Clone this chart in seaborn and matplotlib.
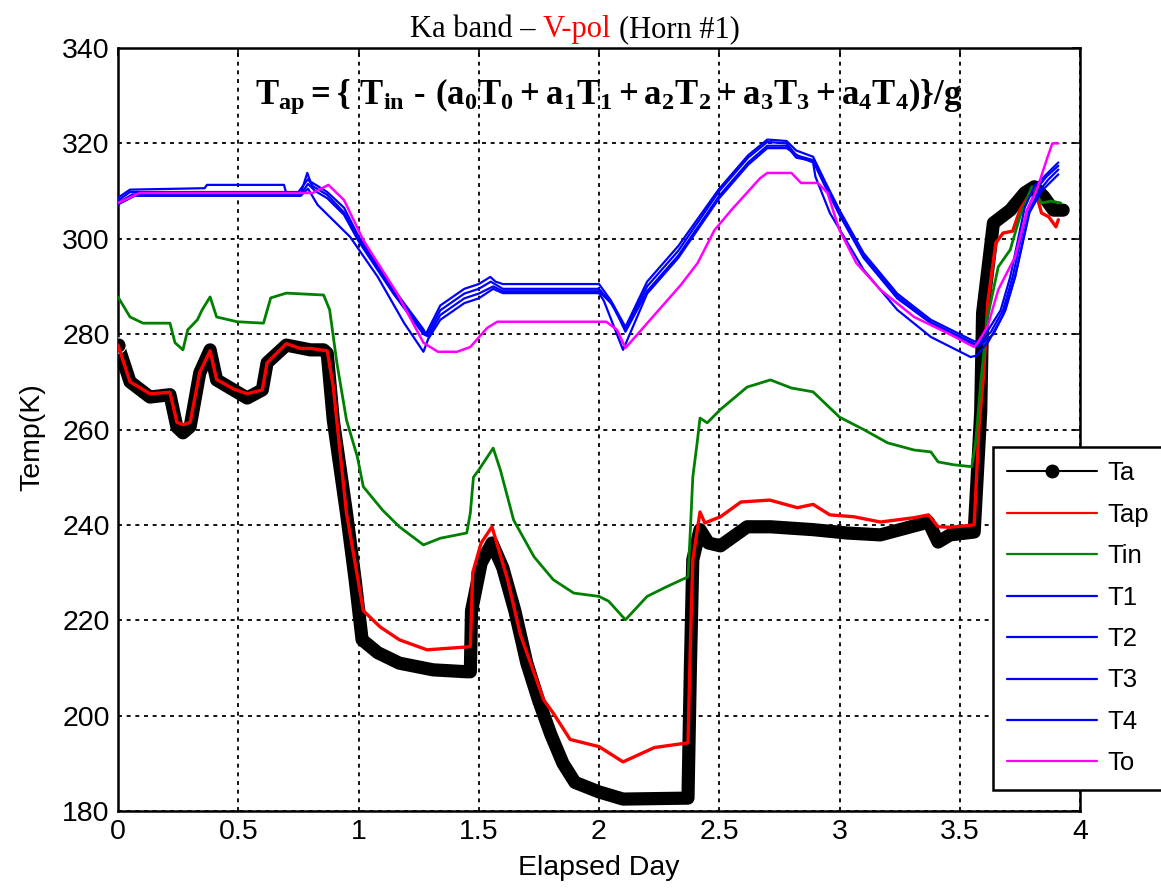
import matplotlib
matplotlib.use("Agg")
import matplotlib.pyplot as plt
from matplotlib.lines import Line2D
import seaborn as sns

# ---------------- data (elapsed day, temperature in K) ----------------
ta_day = [0, 0.05, 0.133, 0.216, 0.245, 0.27, 0.30, 0.34, 0.383, 0.41, 0.48, 0.537, 0.60, 0.62,
          0.70, 0.80, 0.855, 0.87, 0.895, 0.95, 0.986, 1.015, 1.08, 1.17, 1.31, 1.45, 1.465, 1.47,
          1.51, 1.555, 1.60, 1.65, 1.70, 1.75, 1.80, 1.85, 1.90, 1.95, 2.00, 2.10, 2.37, 2.38, 2.39,
          2.42, 2.455, 2.505, 2.616, 2.713, 2.89, 3.03, 3.17, 3.37, 3.41, 3.46, 3.56, 3.587, 3.595,
          3.63, 3.64, 3.71, 3.77, 3.81, 3.85, 3.89, 3.93]
ta_val = [277.7, 270.0, 266.8, 267.3, 260.5, 259.3, 260.6, 271.9, 276.7, 270.4, 268.3, 266.6, 268.3,
          274.0, 277.7, 276.7, 276.7, 276.0, 262.0, 242.5, 228.5, 215.9, 213.2, 211.0, 209.6, 209.2,
          209.2, 222.0, 232.0, 236.2, 231.0, 222.0, 211.0, 203.0, 196.0, 190.0, 186.0, 185.0, 184.0,
          182.5, 182.7, 210.0, 232.7, 239.0, 236.2, 235.6, 239.6, 239.6, 239.0, 238.3, 237.9, 240.6,
          236.4, 237.9, 238.5, 263.5, 284.4, 299.1, 303.3, 306.0, 309.6, 310.9, 308.8, 306.0, 306.0]

tap_day = [0, 0.05, 0.133, 0.216, 0.245, 0.27, 0.30, 0.34, 0.383, 0.41, 0.48, 0.537, 0.60, 0.62,
           0.70, 0.757, 0.80, 0.87, 0.895, 0.95, 1.02, 1.09, 1.17, 1.285, 1.45, 1.465, 1.475, 1.51,
           1.555, 1.62, 1.673, 1.77, 1.81, 1.88, 2.00, 2.10, 2.23, 2.37, 2.38, 2.39, 2.42, 2.44,
           2.505, 2.59, 2.71, 2.825, 2.89, 2.96, 3.06, 3.17, 3.31, 3.37, 3.41, 3.46, 3.56, 3.58,
           3.60, 3.616, 3.65, 3.68, 3.72, 3.75, 3.81, 3.84, 3.87, 3.90, 3.91]
tap_val = [277.7, 270.0, 267.5, 267.8, 261.5, 261.0, 261.5, 272.0, 276.5, 270.5, 268.5, 267.5, 268.3,
           274.0, 278.0, 277.0, 277.0, 276.5, 269.0, 242.5, 222.0, 218.6, 215.9, 213.8, 214.4, 214.5,
           230.0, 236.2, 239.6, 228.5, 217.0, 203.3, 200.5, 195.0, 193.5, 190.3, 193.3, 194.3, 215.0,
           232.7, 242.7, 240.4, 241.7, 244.8, 245.2, 243.6, 244.3, 242.1, 241.7, 240.6, 241.5, 242.1,
           239.6, 239.5, 240.0, 260.5, 272.0, 286.5, 299.1, 301.2, 301.6, 306.0, 310.9, 305.4, 304.6,
           302.5, 304.0]

tin_day = [0, 0.05, 0.104, 0.216, 0.237, 0.27, 0.29, 0.33, 0.35, 0.383, 0.41, 0.495, 0.605, 0.635,
           0.70, 0.855, 0.88, 0.91, 0.95, 0.995, 1.02, 1.10, 1.17, 1.27, 1.34, 1.45, 1.465, 1.478,
           1.50, 1.56, 1.59, 1.645, 1.73, 1.81, 1.895, 2.00, 2.04, 2.11, 2.20, 2.28, 2.37, 2.38,
           2.39, 2.41, 2.42, 2.45, 2.505, 2.616, 2.713, 2.80, 2.89, 3.00, 3.10, 3.20, 3.31, 3.38,
           3.41, 3.475, 3.55, 3.566, 3.587, 3.616, 3.66, 3.71, 3.75, 3.80, 3.84, 3.88, 3.92]
tin_val = [287.8, 283.6, 282.3, 282.3, 278.2, 276.7, 280.9, 283.0, 285.1, 287.8, 283.6, 282.6, 282.3,
           287.6, 288.6, 288.2, 285.1, 274.0, 262.0, 254.3, 248.0, 243.1, 239.6, 235.8, 237.2, 238.3,
           242.5, 250.0, 251.5, 256.1, 251.5, 241.0, 233.3, 228.5, 225.7, 225.0, 224.0, 220.1, 225.0,
           227.0, 229.1, 239.0, 250.0, 258.0, 262.4, 261.4, 264.2, 268.9, 270.4, 268.7, 267.9, 262.6,
           260.0, 257.2, 255.7, 255.3, 253.2, 252.6, 252.2, 257.2, 269.8, 283.6, 294.1, 297.7, 304.6,
           310.9, 307.5, 307.9, 307.5]

t1_day = [0, 0.05, 0.36, 0.37, 0.69, 0.70, 0.76, 0.787, 0.80, 0.87, 0.94, 1.00, 1.145, 1.27, 1.28,
          1.34, 1.44, 1.50, 1.548, 1.57, 1.60, 2.00, 2.05, 2.11, 2.20, 2.33, 2.50, 2.62, 2.70, 2.78,
          2.82, 2.89, 2.94, 3.00, 3.10, 3.24, 3.38, 3.56, 3.58, 3.62, 3.67, 3.71, 3.77, 3.81, 3.86, 3.91]
t1_val = [308.6, 310.3, 310.6, 311.3, 311.3, 309.5, 309.5, 313.8, 312.0, 309.8, 306.5, 300.5, 289.5,
          281.0, 280.0, 286.0, 289.5, 290.5, 292.0, 291.0, 290.5, 290.5, 287.0, 281.5, 291.0, 298.5,
          310.5, 317.5, 320.8, 320.5, 318.5, 317.2, 312.0, 306.0, 297.0, 288.5, 283.0, 278.5, 278.5,
          281.0, 285.0, 292.0, 306.5, 311.0, 313.5, 316.0]

t2_day = [0, 0.05, 0.75, 0.79, 0.81, 0.87, 0.94, 1.00, 1.145, 1.27, 1.285, 1.34, 1.44, 1.50, 1.55,
          1.60, 2.00, 2.05, 2.11, 2.20, 2.33, 2.50, 2.62, 2.70, 2.78, 2.82, 2.89, 2.94, 3.00, 3.10,
          3.24, 3.38, 3.56, 3.58, 3.63, 3.68, 3.72, 3.78, 3.82, 3.86, 3.91]
t2_val = [308.0, 309.8, 309.8, 312.5, 311.0, 309.2, 305.5, 300.0, 289.0, 280.5, 279.8, 285.0, 288.5,
          289.5, 291.0, 289.5, 289.5, 286.5, 281.0, 290.0, 297.5, 310.0, 317.0, 320.3, 320.0, 317.5,
          316.5, 311.5, 305.5, 296.5, 288.0, 282.5, 278.0, 278.0, 280.5, 285.0, 292.0, 306.0, 310.5,
          313.0, 315.3]

t3_day = [0, 0.06, 0.76, 0.79, 0.82, 0.87, 0.94, 1.00, 1.145, 1.27, 1.29, 1.34, 1.44, 1.50, 1.56,
          1.60, 2.00, 2.06, 2.11, 2.20, 2.33, 2.50, 2.62, 2.70, 2.78, 2.82, 2.89, 2.94, 3.00, 3.10,
          3.24, 3.38, 3.56, 3.58, 3.64, 3.69, 3.73, 3.79, 3.83, 3.87, 3.91]
t3_val = [307.5, 309.3, 309.3, 311.5, 310.0, 308.5, 305.0, 299.5, 288.5, 280.0, 279.5, 284.0, 287.5,
          288.5, 290.0, 289.0, 289.0, 286.0, 280.5, 289.0, 296.5, 309.0, 316.0, 319.5, 319.5, 317.0,
          316.3, 311.0, 305.0, 296.0, 287.5, 282.3, 277.7, 277.5, 280.0, 285.0, 292.0, 306.0, 310.0,
          312.5, 314.5]

t4_day = [0, 0.07, 0.76, 0.79, 0.83, 0.965, 1.08, 1.19, 1.27, 1.29, 1.34, 1.44, 1.50, 1.56, 1.60,
          2.00, 2.02, 2.10, 2.20, 2.33, 2.50, 2.62, 2.70, 2.78, 2.84, 2.89, 2.90, 2.96, 3.10, 3.24,
          3.38, 3.545, 3.57, 3.62, 3.68, 3.73, 3.79, 3.84, 3.88, 3.91]
t4_val = [307.2, 309.0, 309.0, 310.5, 307.1, 300.4, 292.0, 282.3, 276.3, 279.0, 283.0, 286.5, 287.5,
          289.5, 288.6, 288.6, 287.0, 276.7, 288.5, 296.0, 308.5, 315.5, 319.0, 319.0, 317.0, 316.0,
          313.0, 305.4, 293.5, 285.1, 279.4, 275.2, 275.5, 278.5, 284.0, 292.0, 305.5, 310.0, 312.0,
          313.5]

to_day = [0, 0.09, 0.81, 0.875, 0.94, 1.02, 1.16, 1.27, 1.33, 1.41, 1.465, 1.535, 1.577, 2.03, 2.075,
          2.11, 2.34, 2.41, 2.48, 2.55, 2.67, 2.70, 2.80, 2.84, 2.91, 2.95, 3.00, 3.07, 3.17, 3.31,
          3.45, 3.56, 3.575, 3.616, 3.66, 3.73, 3.78, 3.82, 3.865, 3.885, 3.91]
to_val = [307.5, 309.6, 309.6, 311.3, 308.1, 299.7, 288.6, 278.2, 276.3, 276.3, 277.3, 281.3, 282.6,
          282.6, 280.9, 277.1, 290.3, 294.9, 301.8, 306.0, 312.7, 313.8, 313.8, 311.7, 311.7, 309.6,
          301.8, 294.9, 289.3, 283.6, 280.2, 277.3, 278.2, 281.6, 289.3, 296.2, 306.0, 310.2, 317.1,
          320.0, 320.0]

series_names = ["Ta", "Tap", "Tin", "T1", "T2", "T3", "T4", "To"]
x_ticks = [0, 0.5, 1, 1.5, 2, 2.5, 3, 3.5, 4]
x_tick_labels = ["0", "0.5", "1", "1.5", "2", "2.5", "3", "3.5", "4"]
y_ticks = [180, 200, 220, 240, 260, 280, 300, 320, 340]
y_tick_labels = ["180", "200", "220", "240", "260", "280", "300", "320", "340"]

title_parts = [("Ka band \u2013", "black"), ("V-pol", "#ff0000"), ("(Horn #1)", "black")]
formula = (r"$T_{ap} = \{\ T_{in}\ \text{-}\ (a_0T_0 + a_1T_1 + a_2T_2 + "
           r"a_3T_3 + a_4T_4)\}/g$")

# ---------------- style ----------------
sns.set_style("white")
plt.rcParams["font.family"] = ["Liberation Sans", "DejaVu Sans"]
plt.rcParams["text.color"] = "black"
plt.rcParams["axes.labelcolor"] = "black"
plt.rcParams["mathtext.fontset"] = "custom"
plt.rcParams["mathtext.rm"] = "Liberation Serif:bold"
plt.rcParams["mathtext.it"] = "Liberation Serif:bold"
plt.rcParams["mathtext.bf"] = "Liberation Serif:bold"
plt.rcParams["mathtext.default"] = "bf"

W, H = 1161, 893
fig = plt.figure(figsize=(W / 100, H / 100), dpi=100)
fig.patch.set_facecolor("white")
ax = fig.add_axes([118 / W, (H - 811) / H, 962 / W, 763 / H])

line_kw = dict(ax=ax, sort=False, estimator=None, legend=False)

# Ta: heavy trace of dense circular markers
sns.lineplot(x=ta_day, y=ta_val, color="black", lw=9.5, solid_joinstyle="round",
             solid_capstyle="round", zorder=3, **line_kw)
sns.lineplot(x=ta_day, y=ta_val, color="black", lw=1.2, marker="o", markersize=11,
             markevery=[0], zorder=3, **line_kw)
sns.lineplot(x=tap_day, y=tap_val, color="#ff0000", lw=2.4, zorder=4, **line_kw)
sns.lineplot(x=tin_day, y=tin_val, color="#008000", lw=2.0, zorder=5, **line_kw)
for d, v in [(t1_day, t1_val), (t2_day, t2_val), (t3_day, t3_val), (t4_day, t4_val)]:
    sns.lineplot(x=d, y=v, color="#0000ff", lw=1.6, zorder=6, **line_kw)
sns.lineplot(x=to_day, y=to_val, color="#ff00ff", lw=1.8, zorder=7, **line_kw)

ax.set_xlim(0, 4)
ax.set_ylim(180, 340)
ax.set_xticks(x_ticks)
ax.set_xticklabels(x_tick_labels)
ax.set_yticks(y_ticks)
ax.set_yticklabels(y_tick_labels)
ax.tick_params(direction="in", length=6, width=1.2, top=True, right=True,
               labelsize=20.5, colors="black", pad=6)
for s in ax.spines.values():
    s.set_color("black")
    s.set_linewidth(1.8)
ax.grid(True, color="black", linestyle=(0, (2.2, 2.6)), linewidth=1.3)
ax.set_axisbelow(True)

ax.set_xlabel("Elapsed Day", fontsize=20.5, color="black")
ax.set_ylabel("Temp(K)", fontsize=20.5, color="black")
ax.xaxis.set_label_coords(0.5, -0.058)
ax.yaxis.set_label_coords(-0.075, 0.49)

# equation inside the plot
ax.text(0.51, 1 - (96 - 48) / 763, formula, transform=ax.transAxes, ha="center",
        va="center", fontsize=25, color="black", zorder=8)

# legend
handles = [Line2D([], [], color="black", lw=1.5, marker="o", markersize=9),
           Line2D([], [], color="#ff0000", lw=1.6),
           Line2D([], [], color="#008000", lw=1.6)]
handles += [Line2D([], [], color="#0000ff", lw=1.6) for _ in range(4)]
handles += [Line2D([], [], color="#ff00ff", lw=1.6)]
leg = fig.legend(handles, series_names, loc="upper left",
                 bbox_to_anchor=(993 / W, 1 - 447 / H), bbox_transform=fig.transFigure,
                 fontsize=18.5, frameon=True, fancybox=False, framealpha=1,
                 edgecolor="black", borderpad=0.55, handlelength=3.5, handletextpad=0.4,
                 labelspacing=0.68, borderaxespad=0, numpoints=1)
leg.get_frame().set_linewidth(1.8)
leg.set_zorder(10)

# title with a coloured middle word
renderer = fig.canvas.get_renderer()
title_kw = dict(fontsize=22, family="Liberation Serif", va="baseline", ha="left")
tmp = fig.text(0, 0, "a a", **title_kw)
tmp2 = fig.text(0, 0, "aa", **title_kw)
space_w = tmp.get_window_extent(renderer).width - tmp2.get_window_extent(renderer).width
tmp.remove()
tmp2.remove()
parts = [fig.text(0, 0, s, color=c, **title_kw) for s, c in title_parts]
widths = [p.get_window_extent(renderer).width for p in parts]
total = sum(widths) + space_w * (len(parts) - 1)
x = 575 - total / 2
for p, w in zip(parts, widths):
    p.set_position((x / W, 1 - 37 / H))
    x += w + space_w

fig.savefig("out.png", dpi=100, facecolor="white")
